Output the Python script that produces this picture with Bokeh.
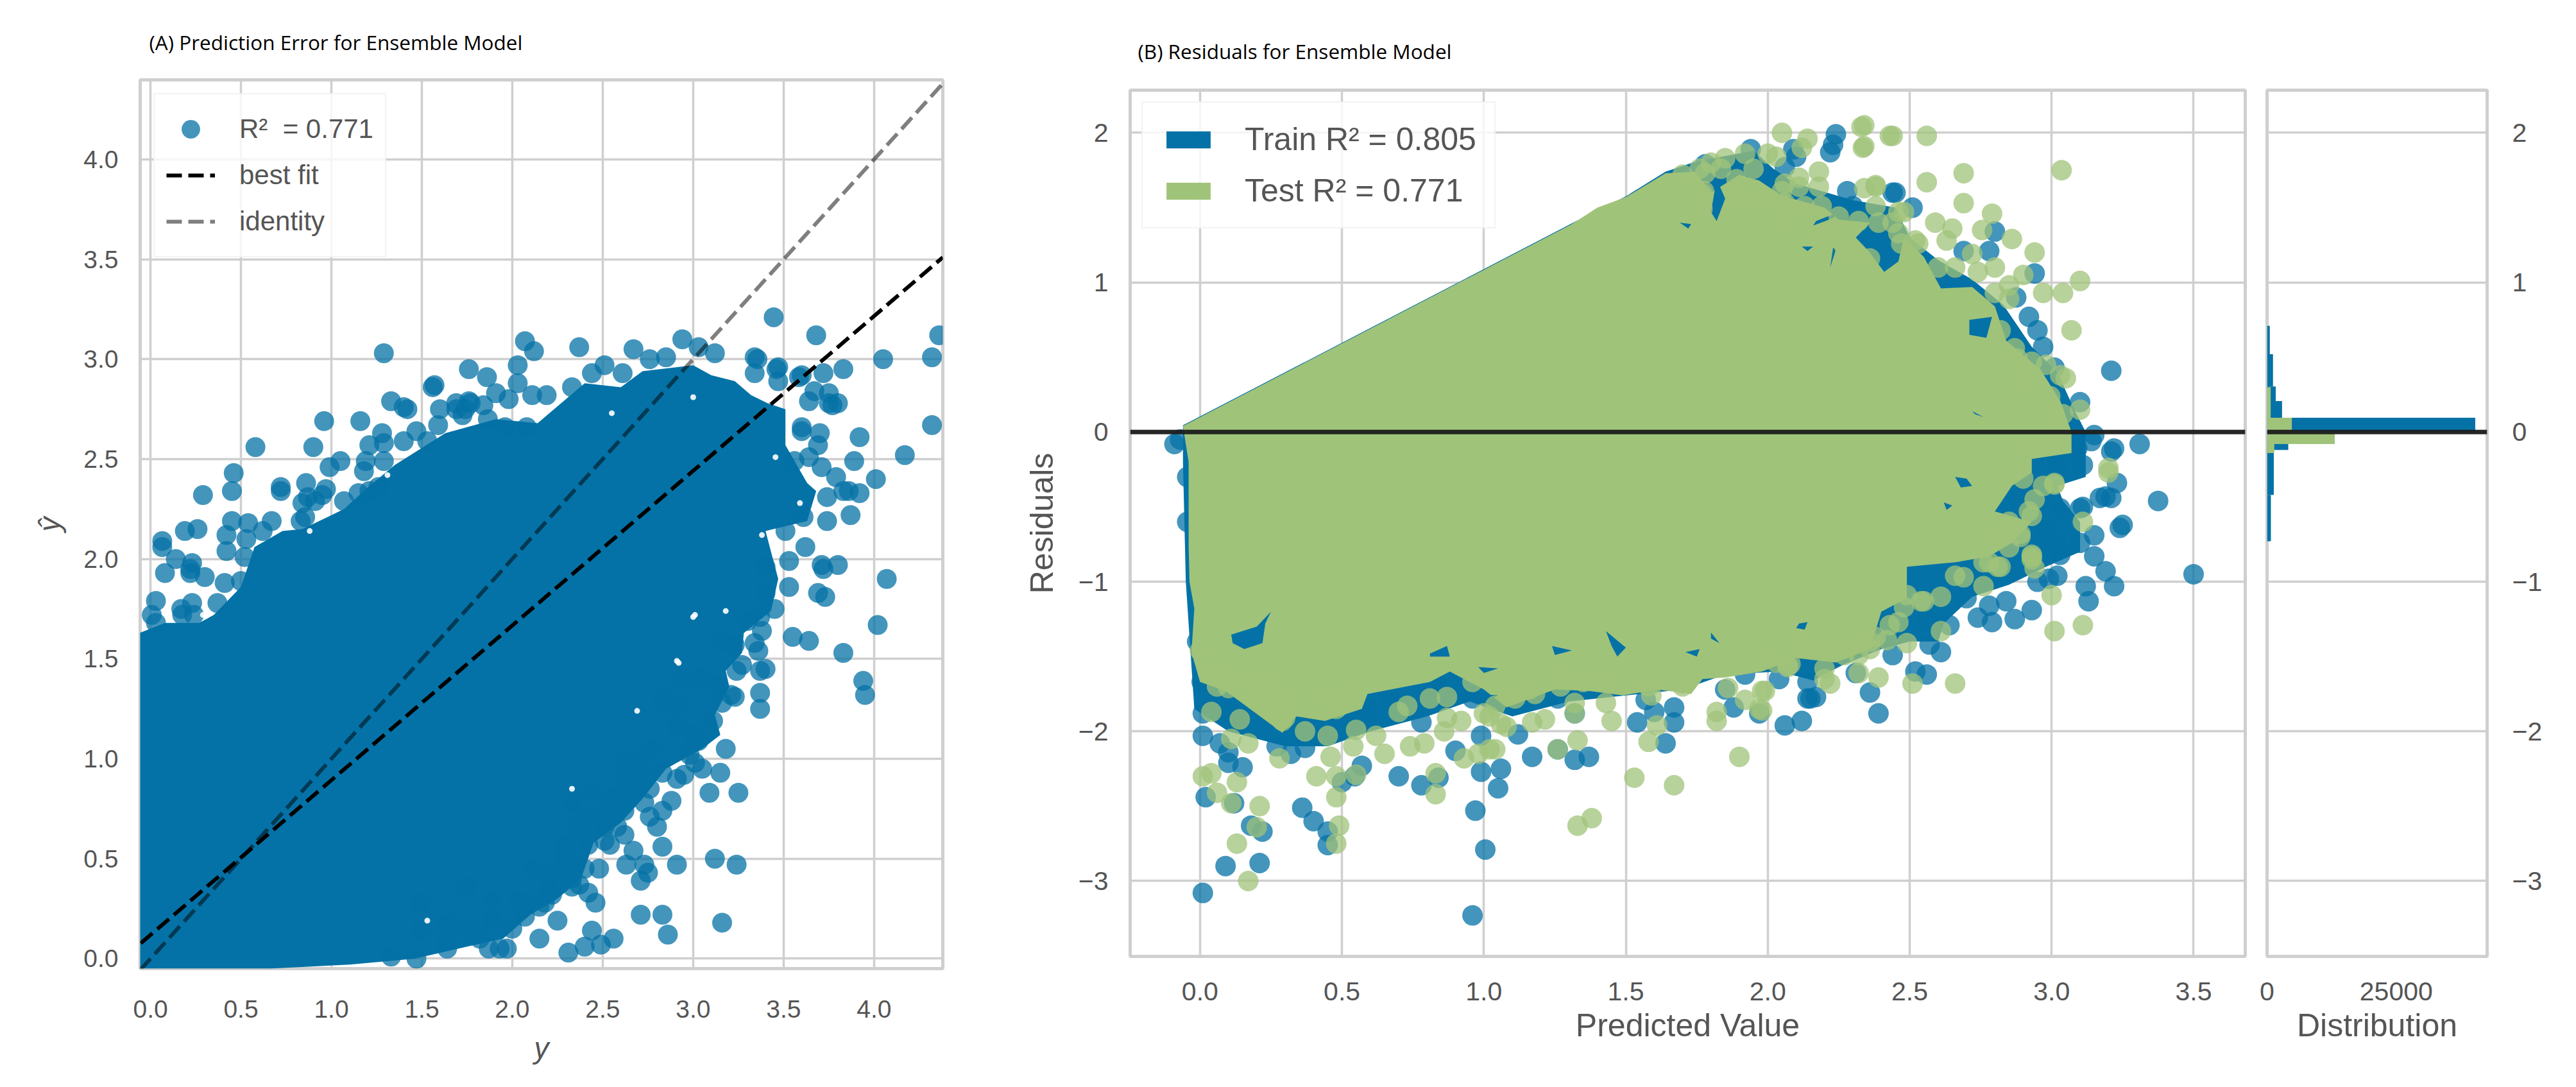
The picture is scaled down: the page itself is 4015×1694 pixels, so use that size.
from bokeh.plotting import figure
from bokeh.layouts import row, column
from bokeh.models import Range1d, FixedTicker, Legend, LegendItem, Span, Title
from bokeh.embed import file_html
from bokeh.resources import INLINE

BLUE = "#0472A6"
GREEN = "#A0C37A"
GRID = "#cfcfcf"
TEXT = "#555555"

# ---------- Panel A: prediction error ----------
a_x_ticks = [0.0, 0.5, 1.0, 1.5, 2.0, 2.5, 3.0, 3.5, 4.0]
a_y_ticks = [0.0, 0.5, 1.0, 1.5, 2.0, 2.5, 3.0, 3.5, 4.0]
a_tick_labels = ["0.0", "0.5", "1.0", "1.5", "2.0", "2.5", "3.0", "3.5", "4.0"]

a_y = [3.445,3.68,4.36,4.05,4.32,3.83,3.72,3.60,3.46,3.34,3.34,3.12,2.94,3.03,2.85,2.67,2.76,2.37,2.51,2.61,2.44,
       2.07,2.12,2.03,1.76,1.86,1.56,2.03,1.91,2.11,2.19,2.33,1.29,1.33,1.42,1.60,1.69,1.76,.96,1.16,1.28,.58,.90,
       1.05,.99,.46,.29,.45,.72,.86,.95,4.32,3.92,4.17,3.89,4.01,3.92,3.87,3.77,3.70,3.60,3.56,3.71,3.79,3.83,3.74,
       3.74,.065,.19,.26,.42,.54,.67,.45,
       4.07,3.80,3.71,3.62,3.53,3.53,3.69,3.73,4.02,3.55,3.64,3.83,3.34,3.37,3.24,3.94,3.95,3.37,3.37,3.21,3.18,3.15,
       3.05,3.25,3.09,2.95,2.91,3.12,3.24,2.83,2.80,2.83,2.88,2.76,2.71,2.83,2.56,2.56,2.62,2.54,2.63,2.73,2.75,2.71,
       2.48,2.37,2.46,2.71,2.83,2.86,3.16,2.56,2.44,2.49,2.40,2.31,2.15,2.25,2.29,2.22,1.93,1.64,1.47,1.33,2.07,1.97,
       1.87,.065,.42,.22,.08,.41,.03,.17,.37,.03,
       3.30,3.23,2.94,3.03,3.11,2.83,2.92,2.91,3.03,2.78,2.67,2.63,2.33,2.36]
a_y_hat = [3.21,3.12,3.12,3.00,3.01,2.95,2.93,2.92,2.95,3.01,2.93,3.03,3.10,3.06,3.01,3.05,3.00,3.06,2.97,2.93,2.93,
           3.09,3.04,2.97,2.95,2.91,2.86,2.88,2.83,2.82,2.82,2.86,3.03,2.79,2.75,2.75,2.75,2.79,2.69,2.69,2.63,2.56,2.56,
           2.49,2.46,2.43,2.32,2.34,2.36,2.38,2.32,2.67,2.61,2.52,2.49,2.40,2.33,2.22,2.77,2.63,2.66,2.49,2.46,2.41,2.34,2.31,
           2.19,2.09,2.14,2.15,2.12,2.18,2.19,2.19,
           1.90,1.97,1.97,2.06,1.99,1.86,1.83,1.81,1.67,1.61,1.59,1.53,1.58,1.44,1.44,1.39,1.32,1.33,1.25,1.32,1.05,.93,
           .95,.83,.83,.92,.47,.50,.47,.56,.66,.74,.79,.85,.90,.93,.81,.73,.62,.57,.47,.47,.43,.39,
           .45,.37,.28,.22,.22,.12,.18,.10,.14,.07,.06,.03,.10,.19,.52,.32,.05,.05,.00,.01,.21,.05,
           .05,2.06,2.04,1.95,1.93,1.88,1.79,1.75,1.78,1.68,
           1.69,1.57,1.40,1.41,1.19,1.30,1.27,1.16,1.09,1.05,.97,.88,.78,.66]

a_fringe_y = [1.57,1.98,1.40,1.69,1.77,1.84,1.74,1.59,1.725,1.865,1.96,2.08,1.47,1.40,1.53,1.21,1.29,1.19,1.29,1.18,1.26,1.21,
              .72,.97,.87,.84,.91,.855,.83,1.07,1.15,.62,.53,.23,.14,.22,.30,.50,.52,.007,.23,.175,.24,
              3.47,3.67,3.75,3.64,3.80,3.75,3.60,3.69,3.64,3.86,3.61,3.51,3.72,3.40,3.40,3.37,3.40,3.16,3.355,3.47,3.585,
              3.01,3.00,2.73,2.62,2.44,2.62,2.51,2.31,2.29,2.11,2.33,2.18,2.04,1.89,1.64,1.68,1.82,2.29,2.87,
              1.49,1.64,1.49,1.77,1.89,1.75,2.00,2.15,2.20,2.33,2.40,2.22,2.42,2.51,2.42,2.58,2.62,2.73,2.76,2.53,2.67,2.42,
              2.91,2.98,3.23,3.16,3.27,3.36,3.38,3.45,3.12]
a_fringe_yhat = [2.87,2.80,2.76,2.78,2.78,2.77,2.75,2.67,2.72,2.70,2.66,2.66,2.64,2.59,2.59,2.57,2.58,2.49,2.49,2.44,2.36,2.34,
                 2.34,2.35,2.31,2.28,2.29,2.21,2.19,2.29,2.33,2.14,2.10,1.98,2.00,1.93,1.91,1.89,2.01,1.72,1.78,1.72,1.72,
                 2.89,2.84,2.83,2.79,2.78,2.78,2.64,2.57,2.51,2.34,2.21,2.14,1.95,1.96,1.83,1.71,1.45,1.59,3.00,2.96,2.91,
                 .98,1.12,1.02,.98,.83,.81,.59,.49,.57,.45,.36,.28,.29,.19,.09,.14,.10,.43,1.28,
                 .28,.17,.14,.14,.29,.36,.15,.26,.35,.40,.45,.43,.57,.66,.71,.66,.74,.78,.71,.76,.54,.33,
                 .90,1.02,1.31,1.28,1.47,1.54,1.64,1.75,1.37]

a_mass_y = [-.06,.66,1.10,1.46,1.75,1.95,2.10,2.25,2.38,2.45,2.60,2.72,2.85,3.05,3.15,3.12,3.20,3.18,3.27,3.28,3.43,3.47,3.40,3.63,3.68,
            3.63,3.51,3.51,3.41,3.32,3.23,3.10,3.00,2.72,2.60,2.40,2.14,1.91,1.63,1.35,1.19,1.07,.84,.73,.575,.50,.35,.27,.08,-.06]
a_mass_yhat = [-.05,-.05,-.03,0,.06,.10,.22,.30,.40,.58,.68,.80,.95,1.05,1.12,1.22,1.36,1.44,1.53,1.63,1.74,1.90,2.14,2.19,2.34,
               2.38,2.57,2.75,2.78,2.82,2.89,2.92,2.97,2.94,2.86,2.88,2.68,2.70,2.63,2.47,2.35,2.25,2.15,2.14,2.06,1.86,1.72,1.68,1.68,1.63]

# small uncovered spots left between the overlapping points
a_gap_y = [3.18,3.38,3.59,3.63,3.455,2.55,3.00,2.92,3.00,1.31,.88,.29,1.53,2.33,2.69,2.91,3.01]
a_gap_yhat = [1.74,2.12,2.28,2.43,2.51,2.73,2.81,1.48,1.71,2.42,2.14,1.72,.19,.85,1.24,1.49,1.72]

best_fit_x = [-0.054, 4.38]
best_fit_y = [0.077, 3.51]
identity_x = [-0.057, 4.39]
identity_y = [-0.057, 4.39]

# ---------- Panel B: residuals ----------
b_x_ticks = [0.0, 0.5, 1.0, 1.5, 2.0, 2.5, 3.0, 3.5]
b_x_labels = ["0.0", "0.5", "1.0", "1.5", "2.0", "2.5", "3.0", "3.5"]
b_y_ticks = [-3, -2, -1, 0, 1, 2]
b_y_labels = ["\u22123", "\u22122", "\u22121", "0", "1", "2"]

train_pred = [.01,.21,.09,.96,1.005,.97,1.05,.99,1.06,.70,.78,.84,.36,.40,.45,.45,.22,.18,.12,.02,.15,.10,.10,.07,.01,
              .57,.545,.50,.37,.32,.27,.01,.006,-.01,.155,.21,.96,.67,.84,.91,.90,.99,.78,.59,.38,.10,
              1.17,1.26,1.32,1.37,1.32,1.26,1.12,1.64,1.54,1.67,1.67,1.60,1.57,1.85,1.88,1.97,2.06,2.12,2.15,2.14,2.04,1.92,
              2.39,2.36,2.56,2.52,2.14,2.17,2.31,2.44,2.61,2.57,2.64,2.56,2.74,2.79,2.87,2.93,2.84,2.78,2.70,3.13,3.12,3.22,
              3.19,3.02,2.99,2.95,3.15,3.15,3.10,3.03,3.01,2.98,3.03,3.10,3.24,3.17,3.21,3.21,3.14,3.11,3.02,3.09,2.88,
              2.24,2.22,2.23,2.10,2.06,2.09,1.97,1.93,1.94,1.78,1.87,2.28,2.45,2.30,
              3.21,3.31,3.22,3.15,3.10,3.375,3.25,3.19,3.23,3.11,2.44,2.51,2.69,2.78,2.94,2.875,2.92,2.95,2.97,3.01,2.80,2.64,
              3.50,-.09,-.07,-.045,-.045]
train_resid = [-3.08,-2.88,-2.90,-3.23,-2.79,-2.53,-2.38,-2.27,-2.25,-2.30,-2.36,-2.31,-2.51,-2.60,-2.67,-2.76,-2.67,-2.63,
               -2.48,-2.44,-2.24,-2.21,-2.14,-2.08,-2.03,-2.23,-2.30,-2.34,-2.11,-2.15,-2.10,-1.88,-1.67,-1.40,-1.38,-1.31,
               -1.78,-1.78,-1.67,-1.60,-2.13,-2.03,-1.94,-1.85,-1.85,-1.87,
               -2.17,-2.12,-2.19,-2.17,-1.88,-1.78,-2.02,-2.08,-1.94,-1.94,-1.84,-1.87,-1.79,-1.72,-1.84,-1.88,-1.96,-1.93,-1.78,-1.67,-1.65,-1.62,
               -1.88,-1.74,-1.62,-1.60,-1.78,-1.77,-1.61,-1.49,-1.47,-1.42,-1.29,-1.26,-1.24,-1.27,-1.25,-1.19,-1.13,-1.16,-1.11,-1.13,-1.03,-1.03,
               -.93,-.96,-.98,-1.00,-.83,-.69,-.74,-.82,-.73,-.65,-.51,-.51,-.64,-.44,-.44,-.13,-.06,-.22,-.22,-.11,-.45,
               1.99,1.87,1.92,1.84,1.77,1.89,1.61,1.50,1.89,1.79,1.78,1.61,1.60,1.51,
               .41,-.08,-.11,-.02,.20,-.46,-.62,-.43,-.34,-.50,1.60,1.50,1.21,1.21,1.06,.90,.77,.68,.57,.43,1.34,.93,
               -.95,-.08,-.05,-.30,-.60]

test_pred = [.17,.13,.20,.49,.48,.21,.48,.11,.06,.13,.01,.04,.41,.48,.55,.83,.83,.65,.46,.28,.54,.74,.79,.62,.55,.45,.37,.17,.11,
             .93,.98,1.04,.14,.04,.30,.70,.86,.92,1.00,.87,0,.49,.21,
             1.90,1.67,1.53,1.38,1.33,1.33,1.58,1.26,1.02,1.61,1.82,1.82,1.97,1.98,1.92,1.86,1.45,1.43,1.32,1.32,1.215,1.17,1.02,1.08,1.59,2.07,1.70,2.2,
             2.66,2.51,2.39,2.32,2.22,3.01,3.11,3.0,2.61,2.49,2.46,2.07,2.20,1.99,1.98,3.20,3.01,3.11,2.94,2.93,2.76,2.61,2.49,2.94,2.93,2.89,2.82,2.66,
             2.33,2.43,2.335,2.05,2.14,2.12,2.18,2.18,2.38,2.34,2.11,1.92,2.0,1.95,2.38,2.46,2.32,2.05,2.11,1.78,1.835,1.895,1.77,2.19,2.20,2.28,
             3.035,2.56,2.44,2.34,2.34,2.69,2.69,2.56,2.79,2.755,2.86,2.94,3.10,3.04,2.97,3.07,2.90,2.48,2.38,2.59,2.65,2.80,3.05,3.10,3.01,2.88,3.20,3.01]
test_resid = [-3.00,-2.75,-2.64,-2.63,-2.75,-2.50,-2.44,-2.48,-2.41,-2.34,-2.30,-2.28,-2.30,-2.30,-2.29,-2.42,-2.28,-2.15,-2.17,-2.18,-2.10,-2.10,-2.08,-2.03,-1.99,-2.03,-2.00,-2.08,-2.05,
              -2.18,-2.15,-2.12,-1.92,-1.87,-1.91,-1.87,-2.00,-1.93,-1.88,-1.77,-1.46,-1.83,-1.77,
              -2.17,-2.36,-2.31,-2.58,-2.63,-2.06,-2.07,-2.12,-2.12,-1.96,-1.93,-1.87,-1.85,-1.73,-1.79,-1.71,-1.93,-1.81,-1.88,-1.81,-1.92,-1.94,-1.90,-1.97,-1.76,-1.57,-1.70,-1.65,
              -1.68,-1.68,-1.64,-1.61,-1.68,-1.33,-1.29,-1.09,-1.33,-1.41,-1.27,-1.56,-1.58,-1.73,-1.86,-.27,-.35,-.60,-.91,-.83,-1.03,-1.10,-1.09,-.45,-.56,-.70,-.90,-.96,
              2.04,1.98,1.90,2.00,1.96,1.90,1.74,1.64,1.64,1.63,1.70,1.86,1.86,1.76,1.51,1.47,1.41,1.61,1.64,1.73,1.76,1.63,1.59,1.51,1.33,1.16,
              1.75,1.98,1.98,1.91,2.05,1.73,1.53,1.67,1.46,1.35,1.29,1.20,1.01,.93,.93,.68,1.05,1.47,1.65,1.40,1.36,1.10,.36,.15,.12,.49,-.24,-.34]

test_fringe_pred = [2.44,2.52,2.63,2.72,2.80,2.85,2.82,2.87,2.93,2.98,3.03,2.995,3.04,2.915,2.88,2.85,2.74,2.66,2.60,2.53,2.47,2.39,
                    2.93,2.86,2.80,2.81,2.55,2.42,2.36,2.32,2.26,2.12,2.00,3.02,2.98,2.91,2.90,
                    1.76,1.775,1.77,1.89,1.89,2.03,2.06,2.13,2.06,2.25,2.27,2.36,2.46,2.06,1.97,
                    .04,.09,.10,.06,.17,.24,.29,.245,.29,.305,.44,.50,.54,.48,.73,.87,.81,.96,1.04,1.06,
                    1.28,1.16,1.11,1.27,1.18,1.35,1.42,1.58,1.70,1.98,2.08,
                    2.48,2.43,2.38,2.36,2.27,2.21,2.16,2.12,2.03,2.69,2.78,2.85,2.93,2.89,2.85,2.92,2.97,2.76,2.54,
                    1.80,1.85,1.70]
test_fringe_resid = [1.40,1.28,1.28,1.19,.93,.89,.68,.56,.47,.45,.38,.24,.12,.33,.42,.98,1.07,1.10,1.10,1.26,1.26,1.40,
                     -.85,-.64,-.71,-.90,-1.13,-1.39,-1.40,-1.49,-1.45,-1.42,-1.51,-.08,-.07,-.10,-.31,
                     1.76,1.61,1.49,1.69,1.56,1.84,1.66,1.51,1.53,1.44,1.24,1.16,1.33,1.41,1.53,
                     -1.60,-1.61,-1.71,-1.70,-1.64,-1.64,-1.78,-1.83,-1.93,-1.85,-1.77,-1.80,-1.74,-1.85,-1.83,-1.91,-1.78,-1.67,-1.83,-1.95,
                     -1.62,-1.72,-1.78,-1.70,-1.75,-1.67,-1.64,-1.70,-1.68,-1.52,-1.55,
                     -1.17,-1.29,-1.37,-1.45,-1.49,-1.45,-1.45,-1.39,-1.54,-.97,-.87,-.77,-.82,-.68,-.60,-.53,-.36,-.87,-1.13,
                     1.80,1.83,1.72]

train_mass_pred = [-.06,1.31,1.50,1.64,1.75,1.95,2.02,2.10,2.30,2.45,2.50,2.60,2.72,2.83,2.93,3.02,3.08,3.12,3.12,3.02,3.04,3.10,3.10,2.98,2.85,
                   2.72,2.62,2.60,2.50,2.40,2.26,2.16,2.04,1.85,1.70,1.50,1.30,1.10,.95,.80,.60,.45,.30,.10,-.02,-.05,-.06]
train_mass_resid = [.045,1.395,1.575,1.74,1.81,1.88,1.76,1.66,1.55,1.50,1.30,1.15,1.02,.85,.57,.40,.15,0,-.30,-.36,-.46,-.60,-.80,-.90,-1.02,
                    -1.10,-1.28,-1.40,-1.40,-1.45,-1.56,-1.66,-1.60,-1.62,-1.72,-1.76,-1.80,-1.90,-1.80,-1.90,-2.00,-2.10,-2.10,-2.00,-1.85,-1.00,-.20]

test_mass_pred = [-.06,1.31,1.40,1.50,1.64,1.745,1.80,1.90,1.97,2.05,2.20,2.25,2.36,2.31,2.40,2.48,2.55,2.61,2.72,2.80,2.84,2.96,3.03,3.07,3.07,
                  2.93,2.93,2.86,2.80,2.93,2.86,2.78,2.66,2.49,2.49,2.40,2.36,2.24,2.10,1.98,1.85,1.77,1.73,1.61,1.49,1.37,1.25,1.08,1.00,.93,
                  .88,.81,.59,.57,.44,.34,.29,.09,.00,-.03,-.02,-.037,-.04,-.04]
test_mass_resid = [.04,1.39,1.50,1.57,1.73,1.74,1.60,1.72,1.68,1.58,1.50,1.42,1.40,1.30,1.12,1.30,1.17,.96,.97,.84,.61,.42,.21,0,-.14,
                   -.18,-.27,-.36,-.53,-.60,-.74,-.83,-.87,-.90,-1.11,-1.20,-1.45,-1.54,-1.51,-1.60,-1.64,-1.65,-1.75,-1.72,-1.76,-1.73,-1.72,-1.84,-1.72,-1.65,
                   -1.60,-1.67,-1.75,-1.85,-1.93,-1.90,-2.01,-1.73,-1.67,-1.47,-1.18,-1.00,-.76,-.20]

gap_pred = [[.11,.20,.25,.23,.22,.156,.115],[.81,.87,.88,.81],[1.24,1.31,1.25],[1.43,1.50,1.47,1.45],[2.11,2.14,2.13,2.10],
            [1.80,1.83,1.80],[1.71,1.76,1.75],[.98,1.05,1.00],[.98,1.05,1.00],[2.66,2.70,2.72,2.68],[2.62,2.65,2.63],
            [2.51,2.54,2.59,2.56],[2.68,2.73,2.71],[1.82,1.85,1.82,1.80],[1.69,1.73,1.72],
            [2.12,2.16,2.14],[2.23,2.24,2.22],[2.40,2.48,2.46,2.41,2.32],[2.17,2.25,2.23,2.16],[2.71,2.79,2.77,2.71],[2.72,2.76,2.73]]
gap_resid = [[-1.354,-1.30,-1.20,-1.28,-1.41,-1.45,-1.41],[-1.48,-1.43,-1.50,-1.50],[-1.43,-1.46,-1.49],[-1.33,-1.44,-1.50,-1.43],[-1.28,-1.27,-1.32,-1.31],
             [-1.34,-1.41,-1.38],[-1.47,-1.45,-1.50],[-1.57,-1.58,-1.61],[-1.75,-1.76,-1.81],[-.30,-.31,-.36,-.37],[-.47,-.49,-.52],
             [-.90,-.93,-1.00,-1.06],[-.87,-.87,-1.03],[1.69,1.56,1.41,1.47],[1.40,1.39,1.36],
             [1.24,1.24,1.21],[1.23,1.22,1.10],[1.41,1.30,1.14,1.07,1.30],[1.41,1.47,1.43,1.38],[.75,.77,.63,.65],[.14,.10,.12]]

# ---------- Panel C: distribution ----------
c_x_ticks = [0, 25000]
c_x_labels = ["0", "25000"]
train_bin_low = [.52,.305,.207,.096,0.0,-.12,-.42,-.73]
train_bin_high = [.71,.52,.305,.207,.096,0.0,-.12,-.42]
train_count = [530,1150,1680,2900,40300,4100,1300,740]
test_bin_low = [.096,0.0,-.08,-.14]
test_bin_high = [.30,.096,0.0,-.08]
test_count = [700,4800,13100,1400]

Y_RANGE = (-3.504, 2.285)


def style(p, xticks, xlabels, yticks, ylabels, tick_size, standoff):
    p.xaxis.ticker = FixedTicker(ticks=xticks)
    p.yaxis.ticker = FixedTicker(ticks=yticks)
    p.xaxis.major_label_overrides = dict(zip(xticks, xlabels))
    p.yaxis.major_label_overrides = dict(zip(yticks, ylabels))
    for ax in (p.xaxis[0], p.yaxis[0]):
        ax.axis_line_color = None
        ax.major_tick_line_color = None
        ax.minor_tick_line_color = None
        ax.major_label_text_color = TEXT
        ax.major_label_text_font = "Liberation Sans"
        ax.major_label_text_font_size = f"{tick_size}px"
        ax.major_label_standoff = standoff
        ax.axis_label_text_color = TEXT
        ax.axis_label_text_font = "Liberation Sans"
        ax.axis_label_text_font_style = "normal"
    p.grid.grid_line_color = GRID
    p.grid.grid_line_width = 3.5
    p.outline_line_color = GRID
    p.outline_line_width = 5
    p.background_fill_color = "white"
    p.border_fill_color = "white"
    p.min_border = 0


# ---------- Figure A ----------
pa = figure(width=1592, height=1678, output_backend="svg", toolbar_location=None,
            x_range=Range1d(-0.057, 4.38), y_range=Range1d(-0.05, 4.398))
style(pa, a_x_ticks, a_tick_labels, a_y_ticks, a_tick_labels, 39, 28)
pa.min_border_left, pa.min_border_right, pa.min_border_top, pa.min_border_bottom = 218, 123, 124, 169
pa.xaxis.axis_label = "y"
pa.yaxis.axis_label = "\u0177"
pa.xaxis.major_label_standoff = 43
pa.xaxis.axis_label_text_font_style = "italic"
pa.yaxis.axis_label_text_font_style = "italic"
pa.xaxis.axis_label_text_font_size = "46px"
pa.yaxis.axis_label_text_font_size = "46px"
pa.xaxis.axis_label_standoff = 18
pa.yaxis.axis_label_standoff = 24
pa.add_layout(Title(text="(A) Prediction Error for Ensemble Model", align="left", offset=14, standoff=75,
                    text_font="Open Sans", text_font_size="31.5px", text_font_style="normal", text_color="black"), "above")
pa.patch(a_mass_y, a_mass_yhat, fill_color=BLUE, line_color=None)
pa.scatter(a_fringe_y, a_fringe_yhat, size=31, fill_color=BLUE, fill_alpha=0.75, line_color=None)
r_pts = pa.scatter(a_y, a_y_hat, size=31, fill_color=BLUE, fill_alpha=0.75, line_color=None)
pa.scatter(a_gap_y, a_gap_yhat, size=9, fill_color="white", fill_alpha=0.9, line_color=None)
r_best = pa.line(best_fit_x, best_fit_y, line_color="black", line_width=6, line_dash="24 10")
r_iden = pa.line(identity_x, identity_y, line_color="black", line_alpha=0.5, line_width=6, line_dash="24 10")
leg_a = Legend(items=[LegendItem(label="R\u00b2  = 0.771", renderers=[r_pts]),
                      LegendItem(label="best fit", renderers=[r_best]),
                      LegendItem(label="identity", renderers=[r_iden])],
               location="top_left", glyph_width=76, glyph_height=72, spacing=-8,
               label_text_font="Liberation Sans", label_text_font_size="42px", label_text_color=TEXT,
               label_standoff=38, padding=18, margin=21,
               background_fill_alpha=0.8, border_line_color="#e8e8e8", border_line_width=2)
pa.add_layout(leg_a)

# ---------- Figure B ----------
pb = figure(width=1924, height=1678, output_backend="svg", toolbar_location=None,
            x_range=Range1d(-0.246, 3.682), y_range=Range1d(*Y_RANGE))
style(pb, b_x_ticks, b_x_labels, b_y_ticks, b_y_labels, 41, 28)
pb.min_border_left, pb.min_border_right, pb.min_border_top, pb.min_border_bottom = 157, 17, 140, 188
pb.xaxis.axis_label = "Predicted Value"
pb.yaxis.axis_label = "Residuals"
pb.xaxis.major_label_standoff = 34
pb.xaxis.axis_label_text_font_size = "50px"
pb.yaxis.axis_label_text_font_size = "50px"
pb.xaxis.axis_label_standoff = 8
pb.yaxis.axis_label_standoff = 26
pb.add_layout(Title(text="(B) Residuals for Ensemble Model", align="left", offset=12, standoff=80,
                    text_font="Open Sans", text_font_size="31.5px", text_font_style="normal", text_color="black"), "above")
r_train = pb.patch(train_mass_pred, train_mass_resid, fill_color=BLUE, line_color=None)
pb.scatter(train_pred, train_resid, size=32, fill_color=BLUE, fill_alpha=0.75, line_color=None)
r_test = pb.patch(test_mass_pred, test_mass_resid, fill_color=GREEN, line_color=None)
pb.patches(gap_pred, gap_resid, fill_color=BLUE, line_color=None)
pb.scatter(test_pred, test_resid, size=32, fill_color=GREEN, fill_alpha=0.75, line_color=None)
pb.scatter(test_fringe_pred, test_fringe_resid, size=32, fill_color=GREEN, fill_alpha=0.75, line_color=None)
pb.add_layout(Span(location=0, dimension="width", line_color="#1c1c1c", line_width=7, line_alpha=0.95))
leg_b = Legend(items=[LegendItem(label="Train R\u00b2 = 0.805", renderers=[r_train]),
                      LegendItem(label="Test R\u00b2 = 0.771", renderers=[r_test])],
               location="top_left", glyph_width=86, glyph_height=33, spacing=22,
               label_text_font="Liberation Sans", label_text_font_size="50px", label_text_color=TEXT,
               label_standoff=45, padding=28, margin=18,
               background_fill_alpha=0.8, border_line_color="#e8e8e8", border_line_width=2)
pb.add_layout(leg_b)

# ---------- Figure C ----------
pc = figure(width=476, height=1678, output_backend="svg", toolbar_location=None, y_axis_location="right",
            x_range=Range1d(0, 42600), y_range=Range1d(*Y_RANGE))
style(pc, c_x_ticks, c_x_labels, b_y_ticks, b_y_labels, 41, 33)
pc.min_border_left, pc.min_border_right, pc.min_border_top, pc.min_border_bottom = 17, 116, 140, 188
pc.xgrid.visible = False
pc.xaxis.axis_label = "Distribution"
pc.xaxis.major_label_standoff = 34
pc.xaxis.axis_label_text_font_size = "50px"
pc.xaxis.axis_label_standoff = 8
pc.quad(left=0, right=train_count, bottom=train_bin_low, top=train_bin_high, fill_color=BLUE, line_color=None)
pc.quad(left=0, right=test_count, bottom=test_bin_low, top=test_bin_high, fill_color=GREEN, line_color=None)
pc.add_layout(Span(location=0, dimension="width", line_color="#1c1c1c", line_width=7, line_alpha=0.95))

layout = row(column(pa), column(pb), column(pc))
open("out.html", "w").write(file_html(layout, INLINE))
